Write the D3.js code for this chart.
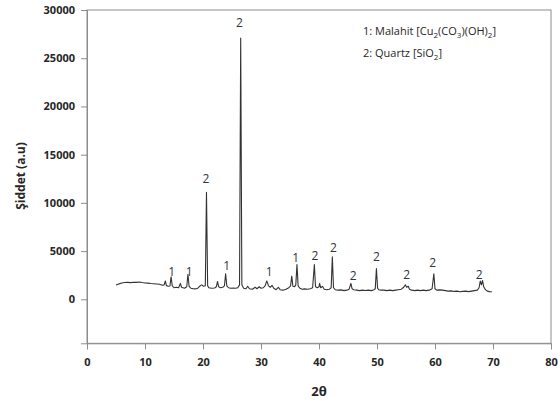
<!DOCTYPE html>
<html>
<head>
<meta charset="utf-8">
<script src="https://cdn.jsdelivr.net/npm/d3@7"></script>
<style>
  html, body { margin: 0; padding: 0; background: #fff; }
  svg { display: block; font-family: "Open Sans", "Liberation Sans", sans-serif; }
</style>
</head>
<body>
<svg id="chart" width="560" height="401"></svg>
<script>
// 2θ (degrees) and intensity (a.u.)
const theta = [5.0,5.5,6.0,6.5,7.0,7.5,8.0,8.5,9.0,9.5,10.0,10.5,11.0,11.5,12.0,12.5,13.0,13.3,13.5,13.7,14.0,14.3,14.5,14.7,15.0,15.4,15.8,16.1,16.3,16.8,17.2,17.4,17.6,17.9,18.3,18.7,19.1,19.5,19.8,20.1,20.4,20.6,20.8,21.0,21.5,22.0,22.3,22.5,22.7,23.0,23.4,23.7,23.9,24.1,24.4,24.8,25.2,25.6,26.0,26.3,26.5,26.7,27.0,27.4,27.7,28.0,28.5,29.0,29.3,29.7,30.0,30.4,30.7,31.0,31.3,31.6,31.9,32.2,32.6,33.0,33.3,33.8,34.3,34.8,35.1,35.3,35.5,35.8,36.0,36.2,36.4,36.7,37.1,37.5,38.0,38.5,38.9,39.2,39.4,39.7,40.0,40.1,40.3,40.6,40.9,41.3,41.8,42.1,42.3,42.5,42.8,43.3,43.8,44.3,44.8,45.2,45.5,45.7,46.0,46.5,47.0,47.5,48.0,48.5,49.0,49.5,49.7,49.9,50.1,50.3,50.7,51.2,51.7,52.2,52.7,53.2,53.7,54.2,54.6,54.9,55.1,55.4,55.6,56.0,56.5,57.0,57.5,58.0,58.5,59.0,59.5,59.8,60.0,60.3,60.8,61.3,61.8,62.3,62.8,63.3,63.8,64.3,64.8,65.3,65.8,66.3,66.8,67.3,67.6,67.8,68.0,68.2,68.4,68.7,69.0,69.4,69.8];
const intensity = [1480,1600,1700,1740,1760,1730,1770,1760,1790,1740,1700,1680,1640,1620,1590,1560,1450,1500,1900,1420,1350,1380,2340,1400,1200,1250,1200,1650,1250,1150,1300,2600,1350,1150,1100,1080,1150,1400,1500,1350,1400,11100,1400,1200,1150,1170,1300,1850,1300,1200,1250,1400,2650,1400,1200,1150,1180,1150,1200,1500,27100,1500,1150,1100,1350,1100,1050,1250,1100,1300,1150,1200,1400,1900,1400,1250,1450,1150,1000,1250,1000,950,1050,1200,1400,2400,1350,1300,1500,3600,1400,1150,1050,1080,1050,1100,1200,3600,1300,1200,1300,1650,1200,1350,1050,1000,1050,1200,4400,1200,1000,950,980,900,950,1050,1650,1100,1000,950,900,950,920,950,900,1000,1100,3200,1150,1000,950,950,900,950,900,950,1000,1050,1250,1500,1250,1350,1050,950,900,950,900,950,900,950,1100,2650,1100,950,980,950,900,850,880,820,850,780,820,850,800,850,900,950,1200,1900,1500,1950,1300,1000,850,800,780];

// Phase markers: position (2θ), label level (a.u.), phase number
const markTheta = [14.6,17.6,20.5,24.1,26.3,31.4,36.0,39.3,42.5,45.9,49.9,55.1,59.6,67.6];
const markLevel = [2450,2450,12090,3040,28240,2450,3840,4080,4940,2000,3970,2140,3380,2140];
const markPhase = ["1","1","2","1","2","1","1","2","2","2","2","2","2","2"];

const xTicks = [0,10,20,30,40,50,60,70,80];
const yTicks = [0,5000,10000,15000,20000,25000,30000];

const W = 560, H = 401;
const m = {left: 87, right: 9, top: 10, bottom: 57.7};
const svg = d3.select("#chart");

const x = d3.scaleLinear().domain([0, 80]).range([m.left, W - m.right]);
const y = d3.scaleLinear().domain([-4560, 30000]).range([H - m.bottom, m.top]);

const frameColor = "#8c8c8c";
const textColor = "#262626";

// frame
svg.append("rect")
  .attr("x", m.left).attr("y", m.top)
  .attr("width", W - m.right - m.left).attr("height", H - m.bottom - m.top)
  .attr("fill", "none").attr("stroke", frameColor).attr("stroke-width", 1);

// x axis
const gx = svg.append("g")
  .attr("transform", `translate(0,${H - m.bottom})`)
  .call(d3.axisBottom(x).tickValues(xTicks).tickSize(6).tickPadding(9).tickFormat(d3.format("d")));
gx.select(".domain").attr("stroke", frameColor);
gx.selectAll(".tick line").attr("stroke", frameColor);
gx.selectAll(".tick text").attr("fill", textColor)
  .style("font-family", "'Open Sans', sans-serif").style("font-size", "11px").style("font-weight", "700");

// y axis
const gy = svg.append("g")
  .attr("transform", `translate(${m.left},0)`)
  .call(d3.axisLeft(y).tickValues(yTicks).tickSize(6).tickPadding(6).tickFormat(d3.format("d")));
gy.select(".domain").attr("stroke", frameColor);
gy.selectAll(".tick line").attr("stroke", frameColor);
gy.selectAll(".tick text").attr("fill", textColor)
  .style("font-family", "'Open Sans', sans-serif").style("font-size", "11px").style("font-weight", "700");

// pattern
const pts = theta.map((t, i) => [t, intensity[i]]);
svg.append("path")
  .datum(pts)
  .attr("fill", "none")
  .attr("stroke", "#333")
  .attr("stroke-width", 1.1)
  .attr("stroke-linejoin", "round")
  .attr("d", d3.line().x(d => x(d[0])).y(d => y(d[1])));

// peak labels
svg.append("g").selectAll("text")
  .data(markTheta.map((t, i) => ({t, v: markLevel[i], p: markPhase[i]})))
  .join("text")
  .attr("x", d => x(d.t))
  .attr("y", d => y(d.v))
  .attr("text-anchor", "middle")
  .attr("fill", "#2e3440")
  .style("font-size", "12px")
  .text(d => d.p);

// legend
const leg = svg.append("g").attr("fill", textColor).style("font-size", "11px");
const l1 = leg.append("text").attr("x", 363).attr("y", 35);
l1.append("tspan").text("1: Malahit [Cu");
l1.append("tspan").attr("dy", 3).style("font-size", "8px").text("2");
l1.append("tspan").attr("dy", -3).text("(CO");
l1.append("tspan").attr("dy", 3).style("font-size", "8px").text("3");
l1.append("tspan").attr("dy", -3).text(")(OH)");
l1.append("tspan").attr("dy", 3).style("font-size", "8px").text("2");
l1.append("tspan").attr("dy", -3).text("]");
const l2 = leg.append("text").attr("x", 363).attr("y", 57);
l2.append("tspan").text("2: Quartz [SiO");
l2.append("tspan").attr("dy", 3).style("font-size", "8px").text("2");
l2.append("tspan").attr("dy", -3).text("]");

// axis titles
svg.append("text")
  .attr("x", (m.left + W - m.right) / 2).attr("y", 396)
  .attr("text-anchor", "middle").attr("fill", textColor)
  .style("font-size", "13px").style("font-weight", "700")
  .text("2θ");
svg.append("text")
  .attr("transform", `translate(25,176) rotate(-90)`)
  .attr("text-anchor", "middle").attr("fill", textColor)
  .style("font-size", "12px").style("font-weight", "700")
  .text("Şiddet (a.u)");
</script>
</body>
</html>
